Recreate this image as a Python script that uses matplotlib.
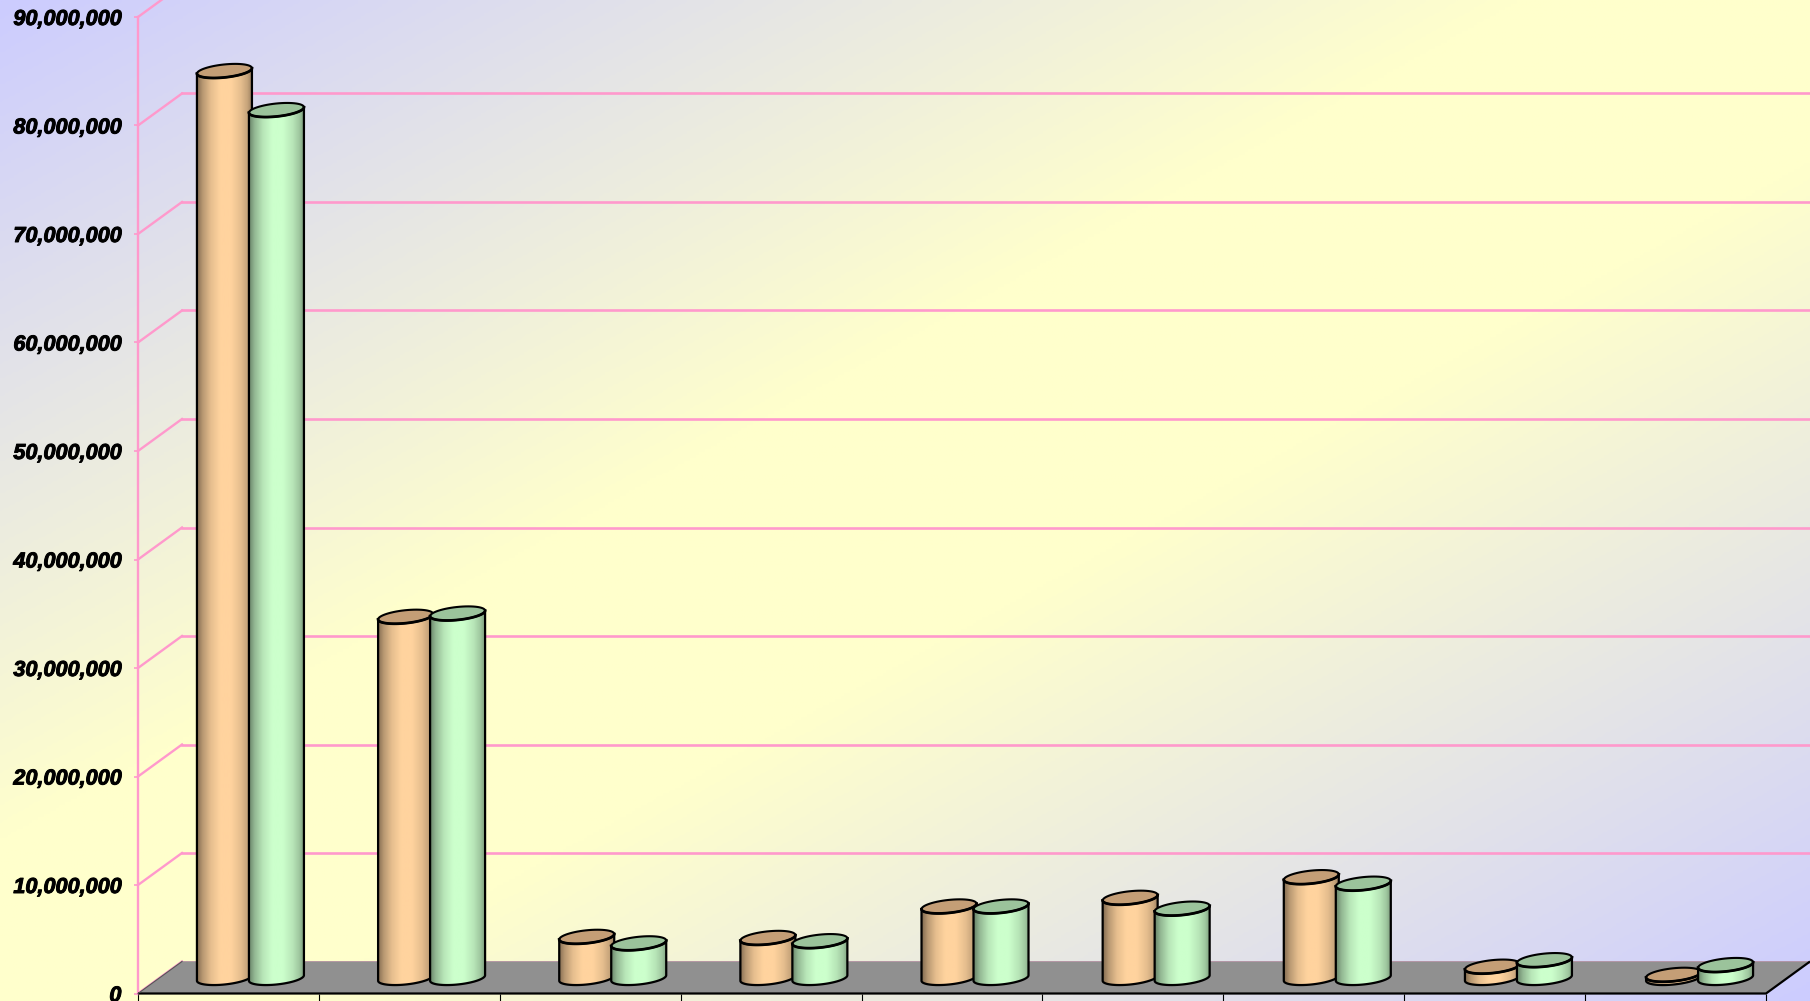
import numpy as np
import matplotlib
matplotlib.use("Agg")
import matplotlib.pyplot as plt
import matplotlib.patheffects as pe
from matplotlib.colors import LinearSegmentedColormap
from matplotlib.patches import PathPatch, Polygon
from matplotlib.path import Path
from matplotlib.ticker import FuncFormatter

# ---- data ----
categories = ["", "", "", "", "", "", "", "", ""]
series_a = [83.6e6, 33.3e6, 3.8e6, 3.7e6, 6.6e6, 7.4e6, 9.3e6, 1.05e6, 0.3e6]
series_b = [80.0e6, 33.6e6, 3.2e6, 3.4e6, 6.6e6, 6.4e6, 8.7e6, 1.65e6, 1.2e6]
y_ticks = list(range(0, 90000001, 10000000))

W, H = 1810, 1001
X0, X1 = 138.0, 1766.0
Y0, Y90 = 993.5, 17.0
PXX = (X1 - X0) / len(categories)         # pixels per category
PXY = (Y0 - Y90) / 90e6                   # pixels per unit of value
DEPTH_X, DEPTH_Y = 44.0, 32.0             # oblique offset in pixels
dx = DEPTH_X / PXX
dy = DEPTH_Y / PXY
PINK = "#FF99CC"

fig = plt.figure(figsize=(W / 100, H / 100), dpi=100)

# background: diagonal gradient, lavender corners and a wide yellow band
bg = fig.add_axes([0, 0, 1, 1])
bg.set_axis_off()
u, v = np.meshgrid(np.linspace(0, 1, 600), np.linspace(0, 1, 340))
t = (u + v) / 2
mix = np.clip((1 - np.abs(2 * t - 1)) / 0.84, 0, 1)
bg_cmap = LinearSegmentedColormap.from_list("bg", ["#CCCCFF", "#FFFFCC"])
bg.imshow(mix, cmap=bg_cmap, vmin=0, vmax=1, aspect="auto", extent=(0, 1, 1, 0))

ax = fig.add_axes([X0 / W, (H - Y0) / H, (X1 - X0) / W, (Y0 - Y90) / H])
ax.patch.set_alpha(0)
n = len(categories)

# walls
for val in y_ticks:
    ax.plot([0, dx], [val, val + dy], color=PINK, lw=1.7, clip_on=False, zorder=1)
    ax.plot([dx, n + dx], [val + dy, val + dy],
            color=PINK if val else "#D48FB2", lw=1.9, clip_on=False, zorder=1)

# floor
ax.add_patch(Polygon([(0, 0), (n, 0), (n + dx, dy), (dx, dy)], closed=True,
                     facecolor="#909090", edgecolor="none", clip_on=False, zorder=2))
ax.plot([0, n, n + dx], [0, 0, dy], color="black", lw=1.6, clip_on=False, zorder=3,
        solid_capstyle="butt")
ax.plot([0, dx], [0, dy], color="#555555", lw=0.8, clip_on=False, zorder=3)


def shade(color):
    c = np.array(matplotlib.colors.to_rgb(color))
    stops = [(0.0, .52), (.10, .72), (.25, .90), (.42, 1.0), (.62, 1.0),
             (.80, .90), (.92, .78), (1.0, .62)]
    return LinearSegmentedColormap.from_list(
        "s", [(p, tuple(np.clip(c * k, 0, 1))) for p, k in stops])


RX, RY, TILT = 27.5, 6.5, 0.10   # cylinder shape in pixels


def ring(cx, cy, a, b):
    """points of a tilted ellipse, angle range a..b, centre in data units"""
    th = np.linspace(a, b, 60)
    xs = cx + RX * np.cos(th) / PXX
    ys = cy + (RX * TILT * np.cos(th) - RY * np.sin(th)) / PXY
    return np.column_stack([xs, ys])


def cylinder(cx, value, side_color, top_color, z):
    base = 15.5 / PXY
    top = base + value
    lower = ring(cx, base, np.pi, 0)            # front half of the base
    upper = ring(cx, top, 0, np.pi)
    body = np.vstack([lower, upper, lower[:1]])
    clip = PathPatch(Path(body), transform=ax.transData, facecolor="none",
                     edgecolor="none")
    ax.add_patch(clip)
    im = ax.imshow(np.linspace(0, 1, 128).reshape(1, -1), cmap=shade(side_color),
                   aspect="auto", zorder=z, interpolation="bilinear",
                   extent=(cx - RX / PXX, cx + RX / PXX,
                           base - 12 / PXY, top + 12 / PXY))
    im.set_clip_path(clip)
    outline = ring(cx, base, np.pi, 0)
    left = ring(cx, top, np.pi, np.pi)
    right = ring(cx, top, 0, 0)
    path = np.vstack([left[:1], outline, right[:1]])
    ax.plot(path[:, 0], path[:, 1], color="black", lw=1.6, zorder=z + .1, clip_on=False)
    ax.add_patch(Polygon(ring(cx, top, 0, 2 * np.pi), closed=True, facecolor=top_color,
                         edgecolor="black", lw=1.5, zorder=z + .2, clip_on=False))
    front = ring(cx, top, np.pi, 0)
    ax.plot(front[:, 0], front[:, 1], color="black", lw=2.0, zorder=z + .3, clip_on=False)


PITCH = 1.0014   # bar groups run very slightly wider than the category ticks
for i, (a_val, b_val) in enumerate(zip(series_a, series_b)):
    centre = i * PITCH + 0.5 + 22.0 / PXX
    off = 26.0 / PXX
    cylinder(centre - off, a_val, "#FFD39E", "#C49E76", 5 + 2 * i)
    cylinder(centre + off, b_val, "#CCFFCC", "#9BC39B", 6 + 2 * i)

ax.set_xlim(0, n)
ax.set_ylim(0, 90e6)
ax.set_xticks(np.arange(n + 1))
ax.set_xticklabels([""] * (n + 1))
ax.set_yticks(y_ticks)
ax.yaxis.set_major_formatter(FuncFormatter(lambda val, _: f"{int(val):,}"))
for side in ("top", "right", "bottom"):
    ax.spines[side].set_visible(False)
ax.spines["left"].set_color(PINK)
ax.spines["left"].set_linewidth(1.7)
ax.tick_params(axis="x", length=8, width=0.8, color="black", pad=1)
ax.tick_params(axis="y", length=3, width=1.2, color=PINK, pad=9)
for lab in ax.get_yticklabels():
    lab.set_fontfamily("Liberation Sans")
    lab.set_fontweight("bold")
    lab.set_fontstyle("italic")
    lab.set_fontsize(15.6)
    lab.set_color("black")
    lab.set_path_effects([pe.withStroke(linewidth=0.7, foreground="black")])

fig.savefig("out.png", dpi=100)
